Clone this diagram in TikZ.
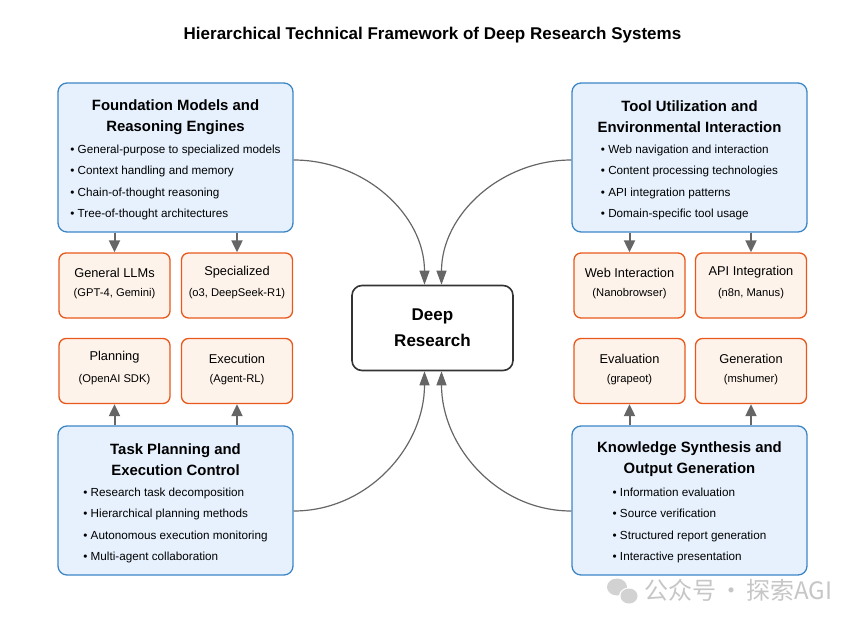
\documentclass[tikz,border=0pt]{standalone}
\usepackage{fontspec}
\setmainfont{Liberation Sans}
\newfontfamily\cjkfont{Noto Sans CJK SC}
\usetikzlibrary{arrows.meta,positioning}

\definecolor{layerblue}{HTML}{3C86C6}
\definecolor{layerfill}{HTML}{E6F1FD}
\definecolor{toolorange}{HTML}{E8581C}
\definecolor{toolfill}{HTML}{FDF3EA}
\definecolor{flowgray}{HTML}{666666}
\definecolor{corestroke}{HTML}{333333}

\tikzset{
  layer/.style={draw=layerblue, fill=layerfill, line width=1.3pt, rounded corners=9pt,
    minimum width=235pt, minimum height=149pt, inner sep=0pt},
  layertitle/.style={font=\fontsize{14.9}{21}\selectfont\bfseries, align=center, inner sep=0pt},
  layeritems/.style={font=\fontsize{11.7}{21.3}\selectfont, align=left, inner sep=0pt},
  tool/.style={draw=toolorange, fill=toolfill, line width=1.3pt, rounded corners=7pt,
    minimum width=111pt, minimum height=65pt, inner sep=0pt},
  toolname/.style={font=\fontsize{12.8}{15}\selectfont, inner sep=0pt},
  toolref/.style={font=\fontsize{11.2}{13}\selectfont, inner sep=0pt},
  feed/.style={draw=flowgray, line width=2pt, -{Triangle[length=12pt,width=11pt]}},
  flow/.style={draw=flowgray, line width=1.2pt, -{Triangle[length=14pt,width=10pt]}},
}

\begin{document}
\begin{tikzpicture}[x=1pt,y=-1pt]
  \useasboundingbox (0,0) rectangle (863,624);

  % title
  \node[font=\fontsize{17}{20}\selectfont\bfseries] (title) at (432.5,35)
    {Hierarchical Technical Framework of Deep Research Systems};

  % core
  \node[draw=corestroke, fill=white, line width=1.6pt, rounded corners=10pt,
    minimum width=161pt, minimum height=85pt, align=center,
    font=\fontsize{17}{26}\selectfont\bfseries] (core) at (432.5,328) {Deep\\Research};

  % foundation models
  \node[layer] (found) at (175.5,157.5) {};
  \node[layertitle] (foundtitle) at (175.5,117) {Foundation Models and\\Reasoning Engines};
  \node[layeritems] (founditems) at (175.5,182.5) {%
    • General-purpose to specialized models\\
    • Context handling and memory\\
    • Chain-of-thought reasoning\\
    • Tree-of-thought architectures};

  % tool utilization
  \node[layer] (tools) at (689.5,157.5) {};
  \node[layertitle] (toolstitle) at (689.5,117) {Tool Utilization and\\Environmental Interaction};
  \node[layeritems] (toolsitems) at (689.5,182.5) {%
    • Web navigation and interaction\\
    • Content processing technologies\\
    • API integration patterns\\
    • Domain-specific tool usage};

  % task planning
  \node[layer] (plan) at (175.5,500.5) {};
  \node[layertitle] (plantitle) at (175.5,459.5) {Task Planning and\\Execution Control};
  \node[layeritems] (planitems) at (175.5,525.5) {%
    • Research task decomposition\\
    • Hierarchical planning methods\\
    • Autonomous execution monitoring\\
    • Multi-agent collaboration};

  % knowledge synthesis
  \node[layer] (synth) at (689.5,500.5) {};
  \node[layertitle] (synthtitle) at (689.5,459.5) {Knowledge Synthesis and\\Output Generation};
  \node[layeritems] (synthitems) at (689.5,525.5) {%
    • Information evaluation\\
    • Source verification\\
    • Structured report generation\\
    • Interactive presentation};

  % implementations
  \node[tool] (llm) at (114.5,285.5) {};
  \node[toolname] at ([yshift=12.5pt]llm.center) {General LLMs};
  \node[toolref] at ([yshift=-8.5pt]llm.center) {(GPT-4, Gemini)};
  \node[tool] (spec) at (237,285.5) {};
  \node[toolname] at ([yshift=13.5pt]spec.center) {Specialized};
  \node[toolref] at ([yshift=-8.5pt]spec.center) {(o3, DeepSeek-R1)};

  \node[tool] (web) at (629.5,285.5) {};
  \node[toolname] at ([yshift=12.5pt]web.center) {Web Interaction};
  \node[toolref] at ([yshift=-8.5pt]web.center) {(Nanobrowser)};
  \node[tool] (api) at (751,285.5) {};
  \node[toolname] at ([yshift=13.5pt]api.center) {API Integration};
  \node[toolref] at ([yshift=-8.5pt]api.center) {(n8n, Manus)};

  \node[tool] (planner) at (114.5,371) {};
  \node[toolname] at ([yshift=14pt]planner.center) {Planning};
  \node[toolref] at ([yshift=-8.5pt]planner.center) {(OpenAI SDK)};
  \node[tool] (exec) at (237,371) {};
  \node[toolname] at ([yshift=12.5pt]exec.center) {Execution};
  \node[toolref] at ([yshift=-8.5pt]exec.center) {(Agent-RL)};

  \node[tool] (eval) at (629.5,371) {};
  \node[toolname] at ([yshift=12.5pt]eval.center) {Evaluation};
  \node[toolref] at ([yshift=-8.5pt]eval.center) {(grapeot)};
  \node[tool] (gen) at (751,371) {};
  \node[toolname] at ([yshift=12.5pt]gen.center) {Generation};
  \node[toolref] at ([yshift=-8.5pt]gen.center) {(mshumer)};

  % layer to implementation
  \draw[feed] (found.south -| llm.north) -- (llm.north);
  \draw[feed] (found.south -| spec.north) -- (spec.north);
  \draw[feed] (tools.south -| web.north) -- (web.north);
  \draw[feed] (tools.south -| api.north) -- (api.north);
  \draw[feed] (plan.north -| planner.south) -- (planner.south);
  \draw[feed] (plan.north -| exec.south) -- (exec.south);
  \draw[feed] (synth.north -| eval.south) -- (eval.south);
  \draw[feed] (synth.north -| gen.south) -- (gen.south);

  % layers into the core
  \draw[flow] ([yshift=-2.5pt]found.east) to[out=0,in=90] ([xshift=-8pt]core.north);
  \draw[flow] ([yshift=-2.5pt]tools.west) to[out=180,in=90] ([xshift=9pt]core.north);
  \draw[flow] ([yshift=-10.5pt]plan.east) to[out=0,in=-90] ([xshift=-8pt]core.south);
  \draw[flow] ([yshift=-10.5pt]synth.west) to[out=180,in=-90] ([xshift=9pt]core.south);

  % watermark
  \fill[gray!35] (617,587) ellipse (10pt and 8.5pt);
  \fill[white] (629,596) ellipse (10pt and 8.5pt);
  \fill[gray!35] (629,596) ellipse (8.5pt and 7.5pt);
  \node[anchor=west, text=gray!45, font=\cjkfont\fontsize{24}{28}\selectfont, inner sep=0pt]
    (mark) at (644,590) {公众号\hspace{3pt}·\hspace{3pt}探索AGI};
\end{tikzpicture}
\end{document}
